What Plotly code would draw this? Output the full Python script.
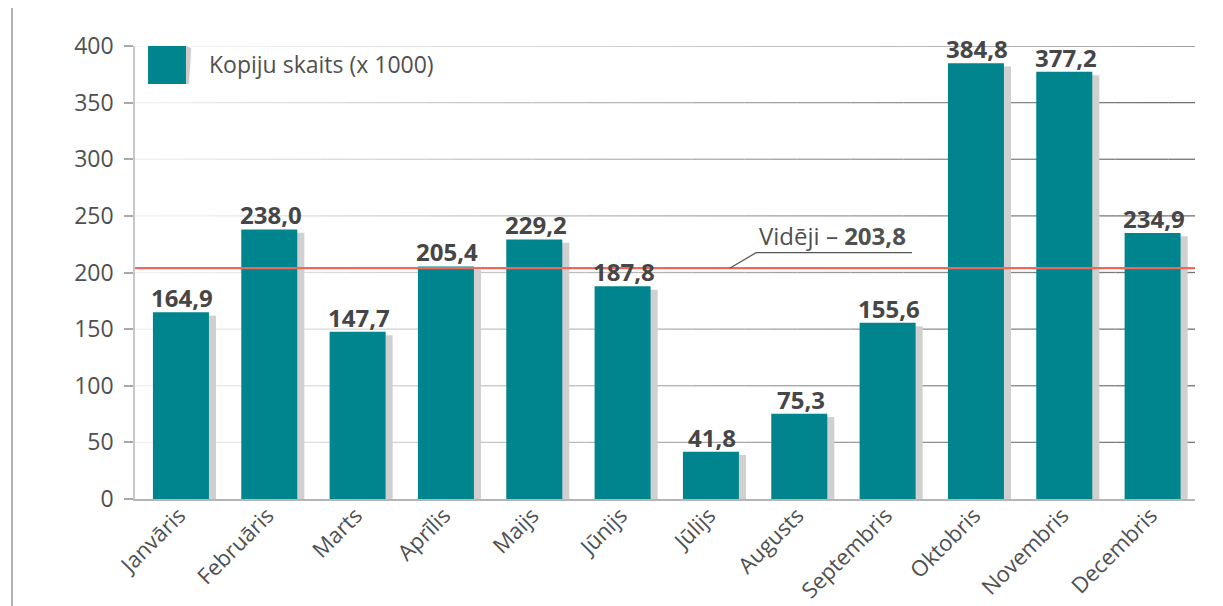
import plotly.graph_objects as go

months = ["Janvāris", "Februāris", "Marts", "Aprīlis", "Maijs", "Jūnijs",
          "Jūlijs", "Augusts", "Septembris", "Oktobris", "Novembris", "Decembris"]
values = [164.9, 238.0, 147.7, 205.4, 229.2, 187.8, 41.8, 75.3, 155.6, 384.8, 377.2, 234.9]
labels = ["164,9", "238,0", "147,7", "205,4", "229,2", "187,8", "41,8", "75,3",
          "155,6", "384,8", "377,2", "234,9"]
average = 203.8
average_label = "203,8"
y_ticks = [0, 50, 100, 150, 200, 250, 300, 350, 400]
series_name = "Kopiju skaits (x 1000)"

TEAL = "#00858E"
TEXT = "#505050"
FONT = "Open Sans, Noto Sans, sans-serif"

BW = 0.634
fig = go.Figure()
# shadow bars
fig.add_trace(go.Bar(
    x=months, y=[v - 3 for v in values], width=BW, offset=-BW / 2 + 0.1,
    marker=dict(color="#d0d0d0", line=dict(width=0)), hoverinfo="skip",
    showlegend=False))
# main bars
fig.add_trace(go.Bar(
    x=months, y=values, width=BW, offset=-BW / 2 + 0.02,
    marker=dict(color=TEAL, line=dict(width=0)),
    name=series_name, showlegend=False))

shapes = []
# gradient gridlines
N = 40
c0 = (242, 242, 242)
c1 = (112, 112, 112)
for t in y_ticks[1:]:
    for i in range(N):
        f = (i + 0.5) / N
        col = tuple(int(round(c0[k] + (c1[k] - c0[k]) * f)) for k in range(3))
        shapes.append(dict(type="line", xref="paper", yref="y",
                           x0=i / N, x1=(i + 1) / N, y0=t, y1=t,
                           line=dict(color="rgb(%d,%d,%d)" % col, width=1.3),
                           layer="below"))
# average line
shapes.append(dict(type="line", xref="paper", yref="y", x0=0, x1=1,
                   y0=average, y1=average,
                   line=dict(color="#F0685A", width=2.2), layer="above"))
# leader line for average annotation
shapes.append(dict(type="path", xref="paper", yref="y",
                   path="M 0.561 %f L 0.586 %f L 0.733 %f" % (average, 217.5, 217.5),
                   line=dict(color="#555555", width=1.2)))
# left vertical decoration line
shapes.append(dict(type="line", xref="paper", yref="paper", x0=-0.116, x1=-0.116,
                   y0=-0.26, y1=1.11, line=dict(color="#b0b0b0", width=2)))
# legend square + shadow
shapes.append(dict(type="path", xref="paper", yref="paper",
                   path="M 0.0481 1.0 L 0.0530 0.995 L 0.0510 0.916 L 0.0481 0.916 Z",
                   fillcolor="#cccccc", line=dict(width=0)))
shapes.append(dict(type="rect", xref="paper", yref="paper",
                   x0=0.0123, x1=0.0481, y0=0.916, y1=1.0,
                   fillcolor=TEAL, line=dict(width=0)))

annotations = [
    dict(xref="paper", yref="paper", x=0.0679, y=0.96, xanchor="left", yanchor="middle",
         text=series_name, showarrow=False,
         font=dict(family=FONT, size=23, color=TEXT)),
    dict(xref="paper", yref="y", x=0.587, y=216, xanchor="left", yanchor="bottom",
         text="Vidēji – <b>%s</b>" % average_label, showarrow=False,
         font=dict(family=FONT, size=24, color=TEXT)),
]
# value labels above bars
for m, v, lab in zip(months, values, labels):
    annotations.append(dict(x=m, y=v, xref="x", yref="y", text="<b>%s</b>" % lab,
                            showarrow=False, yanchor="bottom", xanchor="center",
                            xshift=3, yshift=-4,
                            font=dict(family=FONT, size=24, color="#464646")))

fig.update_layout(
    width=1215, height=598,
    margin=dict(l=127, r=28, t=38, b=107),
    paper_bgcolor="white", plot_bgcolor="white",
    barmode="overlay", bargap=0.3,
    shapes=shapes, annotations=annotations,
    font=dict(family=FONT, color=TEXT),
    xaxis=dict(showgrid=False, showline=True, linecolor="#b5b5b5", linewidth=2,
               tickangle=-45, ticks="", automargin=False, ticklabelstandoff=-7,
               tickfont=dict(size=22, color=TEXT, family=FONT)),
    yaxis=dict(range=[0, 400], tickvals=y_ticks, showgrid=False, zeroline=False,
               showline=True, linecolor="#c8c8c8", linewidth=1.5, automargin=False,
               ticks="outside", ticklen=9, tickcolor="#aaaaaa", tickwidth=1.5,
               ticklabelstandoff=6,
               tickfont=dict(size=23, color=TEXT, family=FONT)),
)

fig.write_html("out.html")
